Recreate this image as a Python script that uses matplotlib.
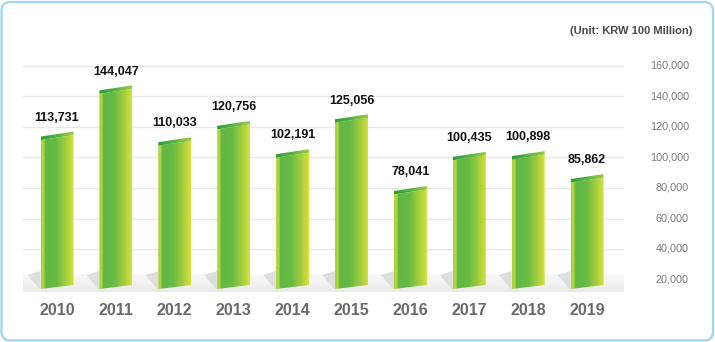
import matplotlib
matplotlib.use("Agg")
import matplotlib.pyplot as plt
import numpy as np
from matplotlib.patches import Polygon, FancyBboxPatch
from matplotlib.colors import LinearSegmentedColormap
from matplotlib.transforms import IdentityTransform

years = ["2010", "2011", "2012", "2013", "2014", "2015", "2016", "2017", "2018", "2019"]
values = [113731, 144047, 110033, 120756, 102191, 125056, 78041, 100435, 100898, 85862]
value_labels = ["113,731", "144,047", "110,033", "120,756", "102,191",
                "125,056", "78,041", "100,435", "100,898", "85,862"]
yticks = [20000, 40000, 60000, 80000, 100000, 120000, 140000, 160000]
ytick_labels = ["20,000", "40,000", "60,000", "80,000", "100,000", "120,000", "140,000", "160,000"]
unit_text = "(Unit: KRW 100 Million)"

FONT = ["Liberation Sans", "DejaVu Sans"]
plt.rcParams["font.family"] = FONT

W, H = 715, 342
fig = plt.figure(figsize=(W / 100, H / 100), dpi=100)
fig.patch.set_facecolor("white")

# rounded frame
frame = FancyBboxPatch((1.5, 1.5), W - 3.5, H - 3.5,
                       boxstyle="round,pad=0,rounding_size=9",
                       transform=IdentityTransform(), fc="none",
                       ec="#9dd5f3", lw=1.6, zorder=10)
fig.patches.append(frame)

# axes placement (pixels)
ax_left, ax_right, ax_top, ax_bot = 23, 624, 55, 295
ax = fig.add_axes([ax_left / W, 1 - ax_bot / H, (ax_right - ax_left) / W, (ax_bot - ax_top) / H])
ax.set_facecolor("none")
for s in ax.spines.values():
    s.set_visible(False)

px_per_unit = 30.5 / 20000.0     # pixels per data unit
def px(n):
    return n / px_per_unit
ymin = px(310 - ax_bot)
ymax = px(310 - ax_top)
sp = 58.9
xmin = (ax_left - 57) / sp
xmax = (ax_right - 57) / sp
ax.set_xlim(xmin, xmax)
ax.set_ylim(ymin, ymax)

# gridlines
for t in yticks:
    ax.axhline(t, color="#e8e8e8", lw=1.0, zorder=1)

# floor band
floor_cmap = LinearSegmentedColormap.from_list("floor", ["#e9e9e9", "#f2f2f2", "#f8f8f8"])
grad_v = np.linspace(1, 0, 64).reshape(-1, 1)
ax.imshow(grad_v, cmap=floor_cmap, extent=(xmin, xmax, px(310 - 292), px(310 - 274)),
          aspect="auto", zorder=2, origin="upper")

face_cmap = LinearSegmentedColormap.from_list(
    "face", [(0.0, "#a8d23c"), (0.09, "#b4d63a"), (0.12, "#62b846"),
             (0.45, "#66ba44"), (0.75, "#a2cc3e"), (1.0, "#d6e23a")])
cap_cmap = LinearSegmentedColormap.from_list("cap", ["#2f9c3f", "#58b343", "#9fcd3e"])
grad_h = np.linspace(0, 1, 128).reshape(1, -1)

bw = 33 / sp
slant = px(5)
cap = px(3.5)
bottom_l = px(310 - 289)
x = np.arange(len(years))

for i, v in enumerate(values):
    L = x[i] - bw / 2
    R = x[i] + bw / 2
    # shadow on floor
    sh = Polygon([(L - 13 / sp, px(310 - 275)), (L, px(310 - 271)), (L, bottom_l), (L - 1 / sp, bottom_l)],
                 closed=True, fc="#dedede", ec="none", zorder=3)
    ax.add_patch(sh)
    # front face
    face = Polygon([(L, v - cap), (R, v - cap + slant), (R, bottom_l + slant * 0.8), (L, bottom_l)],
                   closed=True, fc="none", ec="none")
    ax.add_patch(face)
    im = ax.imshow(grad_h, cmap=face_cmap, extent=(L, R, bottom_l, v + slant),
                   aspect="auto", zorder=4)
    im.set_clip_path(face)
    # top cap
    top = Polygon([(L, v), (R, v + slant), (R, v + slant - cap), (L, v - cap)],
                  closed=True, fc="none", ec="none")
    ax.add_patch(top)
    im2 = ax.imshow(grad_h, cmap=cap_cmap, extent=(L, R, v - cap, v + slant),
                    aspect="auto", zorder=5)
    im2.set_clip_path(top)
    # value label
    ax.annotate(value_labels[i], (x[i], v), xytext=(0, 13.5), textcoords="offset points",
                ha="center", va="center", fontsize=9, fontweight="bold", color="#111111",
                zorder=6)

ax.set_xlim(xmin, xmax)
ax.set_ylim(ymin, ymax)

ax.set_xticks(x)
ax.set_xticklabels(years, fontsize=11.5, fontweight="bold", color="#6a6a6a")
ax.tick_params(axis="x", length=0, pad=6)

ax.yaxis.tick_right()
ax.set_yticks(yticks)
ax.set_yticklabels(ytick_labels, fontsize=7.8, color="#7a7a7a")
ax.tick_params(axis="y", length=0, pad=(689 - ax_right) * 0.72)
for lab in ax.get_yticklabels():
    lab.set_horizontalalignment("right")
    lab.set_verticalalignment("center")

fig.text(692 / W, 1 - 31 / H, unit_text, ha="right", va="center",
         fontsize=8, fontweight="bold", color="#4a4a4a")

fig.savefig("out.png", dpi=100, facecolor="white")
